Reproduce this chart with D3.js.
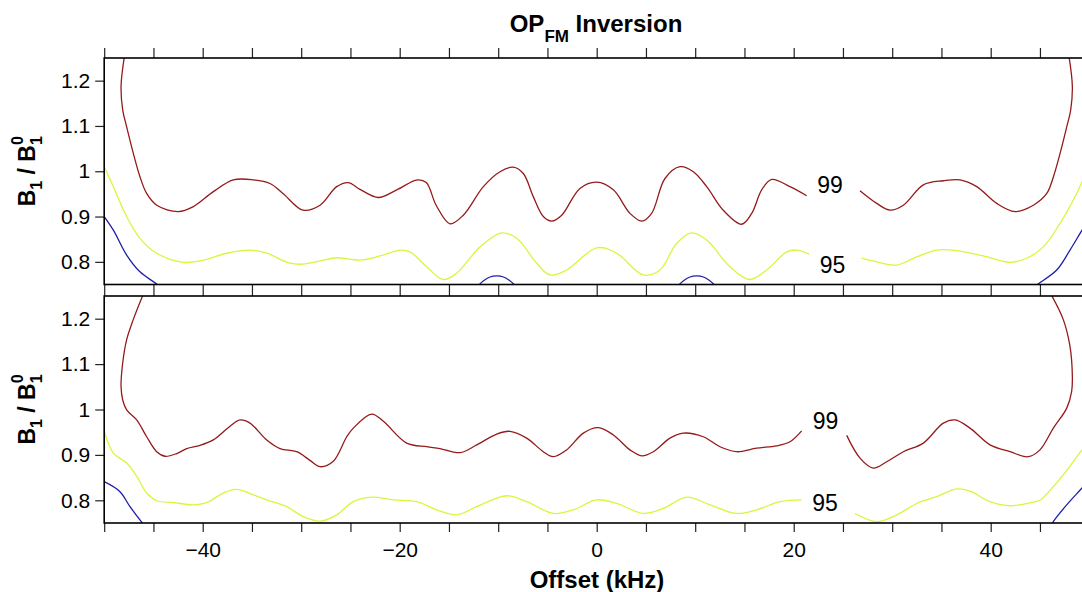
<!DOCTYPE html>
<html>
<head>
<meta charset="utf-8">
<script src="https://cdn.jsdelivr.net/npm/d3@7"></script>
<style>
  html, body { margin: 0; padding: 0; background: #fff; }
  svg { display: block; font-family: "Liberation Sans", Arial, sans-serif; }
</style>
</head>
<body>
<svg id="chart" width="1082" height="592"></svg>
<script>
// ---------- data (x: offset in kHz, y: B1/B1^0) ----------
const xTicks = [-50,-45,-40,-35,-30,-25,-20,-15,-10,-5,0,5,10,15,20,25,30,35,40,45,50];
const xTickLabels = [-40,-20,0,20,40];
const yTicks = [0.8,0.9,1.0,1.1,1.2];
const yTickLabels = ["0.8","0.9","1","1.1","1.2"];
const contourLevels = ["99","95","90"];

// top panel
const top99a = [[-47.96,1.252],[-48.29,1.187],[-48.12,1.135],[-47.72,1.098],[-47.05,1.040],[-46.37,0.988],[-45.69,0.951],[-44.67,0.925],[-42.48,0.911],[-40.95,0.922],[-38.92,0.955],[-36.89,0.981],[-34.86,0.981],[-33.17,0.973],[-31.85,0.951],[-29.82,0.914],[-28.09,0.925],[-26.40,0.966],[-25.22,0.975],[-24.03,0.960],[-22.17,0.942],[-20.30,0.959],[-18.2,0.981],[-17.3,0.975],[-16.3,0.925],[-14.89,0.884],[-13.54,0.903],[-11.51,0.966],[-9.82,0.999],[-8.47,1.009],[-7.45,0.995],[-6.44,0.944],[-5.42,0.900],[-4.57,0.890],[-3.55,0.903],[-1.70,0.962],[0,0.976],[1.69,0.959],[3.38,0.907],[4.57,0.890],[5.58,0.907],[6.93,0.984],[8.46,1.010],[9.81,0.999],[11.17,0.966],[12.85,0.914],[14.72,0.883],[15.74,0.907],[16.75,0.959],[17.77,0.982],[19.62,0.966],[21.32,0.946]];
const top99b = [[26.73,0.957],[28.43,0.929],[29.78,0.914],[31.13,0.925],[33.16,0.970],[35.19,0.979],[36.88,0.981],[38.58,0.966],[40.61,0.929],[42.47,0.911],[44.33,0.925],[45.69,0.951],[46.37,0.988],[47.05,1.040],[47.72,1.098],[48.12,1.135],[48.29,1.187],[47.96,1.252]];
const top95a = [[-50,1.010],[-49.07,0.966],[-47.72,0.900],[-46.37,0.852],[-44.67,0.819],[-41.97,0.799],[-40.27,0.802],[-37.56,0.819],[-35.20,0.826],[-33.50,0.819],[-31.14,0.797],[-29.79,0.795],[-28.09,0.802],[-26.40,0.809],[-24.03,0.804],[-22.0,0.813],[-19.97,0.826],[-18.95,0.822],[-17.26,0.789],[-15.57,0.761],[-14.21,0.775],[-11.85,0.833],[-9.64,0.864],[-8.12,0.852],[-6.09,0.797],[-4.74,0.771],[-3.05,0.782],[0,0.831],[2.03,0.819],[4.73,0.771],[6.43,0.782],[8.12,0.841],[9.64,0.864],[11.17,0.848],[13.53,0.789],[15.56,0.761],[17.26,0.782],[19.29,0.822],[20.30,0.826],[21.58,0.817]];
const top95b = [[26.90,0.808],[28.43,0.800],[30.46,0.793],[32.49,0.811],[34.52,0.826],[36.55,0.825],[39.25,0.813],[41.96,0.799],[43.65,0.808],[45.34,0.833],[47.04,0.885],[48.73,0.951],[49.27,0.977],[50,1.010]];
const top90a = [[-50,0.900],[-49.07,0.870],[-47.72,0.815],[-46.37,0.778],[-44.67,0.751],[-44.2,0.742]];
const top90b = [[-12.2,0.744],[-11.45,0.759],[-10.9,0.766],[-10.15,0.769],[-9.4,0.766],[-8.85,0.759],[-8.1,0.744]];
const top90c = [[8.1,0.744],[8.85,0.759],[9.4,0.766],[10.15,0.769],[10.9,0.766],[11.45,0.759],[12.2,0.744]];
const top90d = [[44.3,0.742],[44.67,0.749],[46.70,0.782],[48.05,0.826],[49.27,0.870],[50,0.895]];

// bottom panel
const bot99a = [[-46.09,1.251],[-47.05,1.198],[-47.72,1.154],[-48.12,1.103],[-48.29,1.051],[-48.12,1.021],[-47.72,0.999],[-46.70,0.977],[-45.69,0.940],[-44.67,0.907],[-43.83,0.897],[-42.64,0.903],[-41.62,0.914],[-40.27,0.921],[-38.92,0.933],[-37.23,0.963],[-36.21,0.977],[-35.20,0.970],[-33.50,0.933],[-32.15,0.914],[-30.46,0.907],[-29.11,0.888],[-28.09,0.874],[-26.74,0.886],[-25.38,0.940],[-24.71,0.959],[-22.84,0.990],[-21.66,0.974],[-19.29,0.926],[-17.26,0.918],[-15.91,0.914],[-13.88,0.905],[-12.18,0.922],[-10.15,0.946],[-8.80,0.952],[-7.11,0.937],[-5.42,0.907],[-4.41,0.896],[-3.05,0.911],[-1.36,0.948],[0.16,0.960],[1.69,0.944],[3.38,0.911],[4.57,0.898],[5.75,0.907],[7.44,0.937],[8.79,0.948],[10.82,0.940],[12.52,0.918],[14.21,0.907],[16.24,0.915],[18.27,0.920],[19.62,0.929],[20.81,0.953]];
const bot99b = [[25.38,0.943],[26.73,0.893],[28.08,0.871],[29.44,0.885],[31.13,0.907],[33.16,0.926],[35.19,0.970],[36.38,0.977],[37.90,0.959],[39.93,0.922],[41.96,0.907],[43.82,0.896],[45.0,0.911],[46.36,0.959],[47.72,1.003],[48.22,1.040],[48.29,1.073],[48.05,1.139],[47.37,1.198],[46.19,1.251]];
const bot95a = [[-50,0.952],[-49.07,0.904],[-47.72,0.882],[-46.70,0.853],[-45.69,0.816],[-44.67,0.799],[-42.98,0.795],[-40.95,0.790],[-39.59,0.795],[-37.91,0.816],[-36.55,0.824],[-34.86,0.812],[-33.50,0.801],[-31.47,0.786],[-29.79,0.764],[-28.09,0.754],[-26.40,0.768],[-24.71,0.797],[-22.84,0.807],[-20.65,0.801],[-18.27,0.797],[-16.24,0.779],[-14.21,0.768],[-12.18,0.786],[-9.14,0.810],[-7.11,0.797],[-4.41,0.771],[-2.38,0.779],[0,0.801],[2.03,0.793],[4.73,0.771],[6.76,0.782],[9.14,0.807],[11.50,0.790],[14.21,0.771],[16.24,0.779],[18.61,0.797],[20.81,0.801]];
const bot95b = [[26.22,0.771],[28.43,0.753],[30.46,0.768],[32.49,0.793],[34.52,0.808],[36.55,0.825],[37.90,0.820],[39.93,0.797],[41.96,0.788],[44.33,0.796],[45.0,0.800],[46.36,0.830],[47.72,0.866],[49.27,0.911],[50,0.930]];
const bot90a = [[-50,0.841],[-48.40,0.819],[-47.38,0.786],[-46.09,0.749],[-45.9,0.744]];
const bot90b = [[46.2,0.745],[46.36,0.753],[47.72,0.790],[49.27,0.827],[50,0.845]];

// contour labels: [x, y, text]
const topLabels = [[23.69,0.971,"99"],[23.94,0.794,"95"]];
const botLabels = [[23.23,0.976,"99"],[23.18,0.795,"95"]];

// ---------- drawing ----------
const colors = {"99":"#951a1a","95":"#d6f73c","90":"#1f1fa8"};
const svg = d3.select("#chart");
const x = d3.scaleLinear().domain([-50,50]).range([104.2,1089.2]);
const yTop = d3.scaleLinear().domain([0.75,1.25]).range([284.5,58]);
const yBot = d3.scaleLinear().domain([0.75,1.25]).range([523,296]);

const defs = svg.append("defs");
function clip(id, y) {
  defs.append("clipPath").attr("id", id).append("rect")
    .attr("x", x(-50)).attr("y", y(1.25))
    .attr("width", x(50) - x(-50)).attr("height", y(0.75) - y(1.25));
}
clip("clipTop", yTop); clip("clipBot", yBot);

function drawPanel(y, clipId, series, labels) {
  const g = svg.append("g").attr("clip-path", `url(#${clipId})`);
  const line = d3.line().x(d => x(d[0])).y(d => y(d[1])).curve(d3.curveCatmullRom.alpha(0.5));
  series.forEach(([data, lvl]) => {
    g.append("path").attr("d", line(data)).attr("fill", "none")
      .attr("stroke", colors[lvl]).attr("stroke-width", 1.3);
  });
  svg.append("g").selectAll("text").data(labels).join("text")
    .attr("x", d => x(d[0])).attr("y", d => y(d[1]))
    .attr("dy", "0.36em").attr("text-anchor", "middle")
    .attr("font-size", 23).attr("fill", "#000").text(d => d[2]);
}

drawPanel(yTop, "clipTop", [[top99a,"99"],[top99b,"99"],[top95a,"95"],[top95b,"95"],[top90a,"90"],[top90b,"90"],[top90c,"90"],[top90d,"90"]], topLabels);
drawPanel(yBot, "clipBot", [[bot99a,"99"],[bot99b,"99"],[bot95a,"95"],[bot95b,"95"],[bot90a,"90"],[bot90b,"90"]], botLabels);

// axes
function styleAxis(g) {
  g.select(".domain").remove();
  g.selectAll(".tick line").attr("stroke", "#222").attr("stroke-width", 1.2);
  g.selectAll("text").attr("font-size", 21).attr("fill", "#000")
    .attr("font-family", "'Liberation Sans', Arial, sans-serif");
}
const tickFmt = d => (xTickLabels.includes(d) ? d3.format("")(d) : "");

svg.append("g").attr("transform", `translate(0,${yTop(1.25)})`)
  .call(d3.axisTop(x).tickValues(xTicks).tickSize(10).tickFormat(""))
  .call(styleAxis);
svg.append("g").attr("transform", `translate(0,${yTop(0.75)})`)
  .call(d3.axisBottom(x).tickValues(xTicks).tickSize(yBot(1.25) - yTop(0.75)).tickFormat(""))
  .call(styleAxis);
svg.append("g").attr("transform", `translate(0,${yBot(0.75)})`)
  .call(d3.axisBottom(x).tickValues(xTicks).tickSize(9).tickPadding(10).tickFormat(tickFmt))
  .call(styleAxis);

[yTop, yBot].forEach(y => {
  svg.append("g").attr("transform", `translate(${x(-50)},0)`)
    .call(d3.axisLeft(y).tickValues(yTicks).tickSize(9).tickPadding(5)
      .tickFormat((d, i) => yTickLabels[i]))
    .call(styleAxis);
});

// frames
[yTop, yBot].forEach(y => {
  const f = svg.append("g").attr("stroke", "#000").attr("stroke-width", 1.6).attr("fill", "none");
  f.append("rect").attr("x", x(-50)).attr("y", y(1.25))
    .attr("width", x(50) - x(-50)).attr("height", y(0.75) - y(1.25));
});

// title
const title = svg.append("text").attr("x", 596).attr("y", 31.5)
  .attr("text-anchor", "middle").attr("font-weight", "bold").attr("font-size", 24).attr("fill", "#000");
title.append("tspan").text("OP");
title.append("tspan").attr("font-size", 17).attr("dy", 10).text("FM");
title.append("tspan").attr("dy", -10).text(" Inversion");

// y labels
function yLabel(cy) {
  const t = svg.append("text").attr("transform", `translate(35,${cy}) rotate(-90)`)
    .attr("text-anchor", "middle").attr("font-weight", "bold").attr("font-size", 23).attr("fill", "#000");
  t.append("tspan").text("B");
  t.append("tspan").attr("font-size", 16).attr("dy", 7).text("1");
  t.append("tspan").attr("dy", -7).text(" / B");
  t.append("tspan").attr("font-size", 16).attr("dy", 7).text("1");
  t.append("tspan").attr("font-size", 16).attr("dx", -8.9).attr("dy", -19).text("0");
}
yLabel((yTop(0.75) + yTop(1.25)) / 2);
yLabel((yBot(0.75) + yBot(1.25)) / 2);

// x label
svg.append("text").attr("x", 597).attr("y", 588).attr("text-anchor", "middle")
  .attr("font-weight", "bold").attr("font-size", 24).attr("fill", "#000").text("Offset (kHz)");
</script>
</body>
</html>
